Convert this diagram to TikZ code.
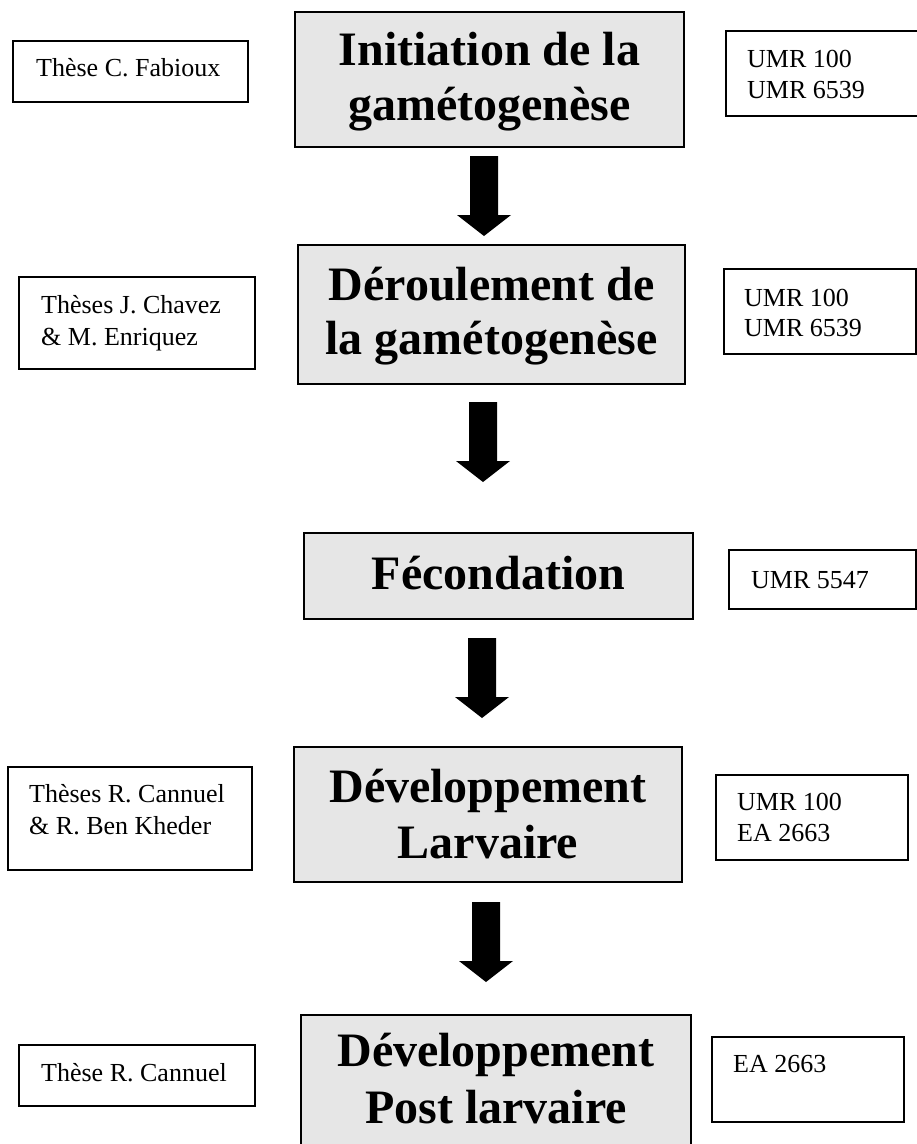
\documentclass[tikz,border=0pt]{standalone}
\usepackage{fontspec}
\setmainfont{Liberation Serif}
\usetikzlibrary{calc}
\definecolor{boxgray}{HTML}{E6E6E6}
\tikzset{
  mainbox/.style={draw=black, fill=boxgray, line width=2pt, rectangle, inner sep=0pt},
  sidebox/.style={draw=black, fill=white, line width=1.8pt, rectangle, inner sep=0pt},
  maintext/.style={font=\fontsize{48}{55}\selectfont\bfseries, inner sep=0pt, anchor=base},
  sidetext/.style={font=\fontsize{26}{31}\selectfont, inner sep=0pt, anchor=base west},
  arrowfill/.style={fill=black}
}
\newcommand{\blockarrow}[2]{%
  \fill[arrowfill] ($(#1)+(-14,0)$) -- ($(#1)+(14,0)$) -- ($(#2)+(14,-21)$) -- ($(#2)+(27,-21)$)
    -- (#2) -- ($(#2)+(-27,-21)$) -- ($(#2)+(-14,-21)$) -- cycle;}
\begin{document}
\begin{tikzpicture}[x=1pt,y=-1pt]
\useasboundingbox (0,0) rectangle (917,1144);

% main boxes
\node[mainbox, minimum width=389pt, minimum height=135pt] (m1) at (489.5,79.5) {};
\node[mainbox, minimum width=387pt, minimum height=139pt] (m2) at (491.5,314.5) {};
\node[mainbox, minimum width=389pt, minimum height=86pt] (m3) at (498.5,576) {};
\node[mainbox, minimum width=388pt, minimum height=135pt] (m4) at (488,814.5) {};
\node[mainbox, minimum width=390pt, minimum height=145pt] (m5) at (496,1087.5) {};

\node[maintext] (m1a) at (489.5,65) {Initiation de la};
\node[maintext] (m1b) at (489.5,120) {gamétogenèse};
\node[maintext] (m2a) at (491.5,300) {Déroulement de};
\node[maintext] (m2b) at (491.5,354) {la gamétogenèse};
\node[maintext] (m3a) at (498.5,589) {Fécondation};
\node[maintext] (m4a) at (488,802) {Développement};
\node[maintext] (m4b) at (488,858) {Larvaire};
\node[maintext] (m5a) at (496,1066) {Développement};
\node[maintext] (m5b) at (496,1123) {Post larvaire};

% left boxes
\node[sidebox, minimum width=235pt, minimum height=61pt] (l1) at (130.5,71.5) {};
\node[sidetext] (l1a) at (36,76) {Thèse C. Fabioux};
\node[sidebox, minimum width=236pt, minimum height=92pt] (l2) at (137,323) {};
\node[sidetext] (l2a) at (41,313) {Thèses J. Chavez};
\node[sidetext] (l2b) at (41,345) {\& M. Enriquez};
\node[sidebox, minimum width=244pt, minimum height=103pt] (l4) at (130,818.5) {};
\node[sidetext] (l4a) at (29,802) {Thèses R. Cannuel};
\node[sidetext] (l4b) at (29,834) {\& R. Ben Kheder};
\node[sidebox, minimum width=236pt, minimum height=61pt] (l5) at (137,1075.5) {};
\node[sidetext] (l5a) at (41,1081) {Thèse R. Cannuel};

% right boxes
\node[sidebox, minimum width=204pt, minimum height=85pt] (r1) at (828,73.5) {};
\node[sidetext] (r1a) at (747,67) {UMR 100};
\node[sidetext] (r1b) at (747,98) {UMR 6539};
\node[sidebox, minimum width=192pt, minimum height=85pt] (r2) at (820,311.5) {};
\node[sidetext] (r2a) at (744,306) {UMR 100};
\node[sidetext] (r2b) at (744,336) {UMR 6539};
\node[sidebox, minimum width=187pt, minimum height=59pt] (r3) at (822.5,579.5) {};
\node[sidetext] (r3a) at (751,588) {UMR 5547};
\node[sidebox, minimum width=192pt, minimum height=85pt] (r4) at (812,817.5) {};
\node[sidetext] (r4a) at (737,810) {UMR 100};
\node[sidetext] (r4b) at (737,841) {EA 2663};
\node[sidebox, minimum width=192pt, minimum height=85pt] (r5) at (808,1079.5) {};
\node[sidetext] (r5a) at (733,1072) {EA 2663};

% block arrows between main boxes
\coordinate (a1s) at (484,156);  \coordinate (a1e) at (484,236);
\coordinate (a2s) at (483,402);  \coordinate (a2e) at (483,482);
\coordinate (a3s) at (482,638);  \coordinate (a3e) at (482,718);
\coordinate (a4s) at (486,902);  \coordinate (a4e) at (486,982);
\blockarrow{a1s}{a1e}
\blockarrow{a2s}{a2e}
\blockarrow{a3s}{a3e}
\blockarrow{a4s}{a4e}
\end{tikzpicture}
\end{document}
